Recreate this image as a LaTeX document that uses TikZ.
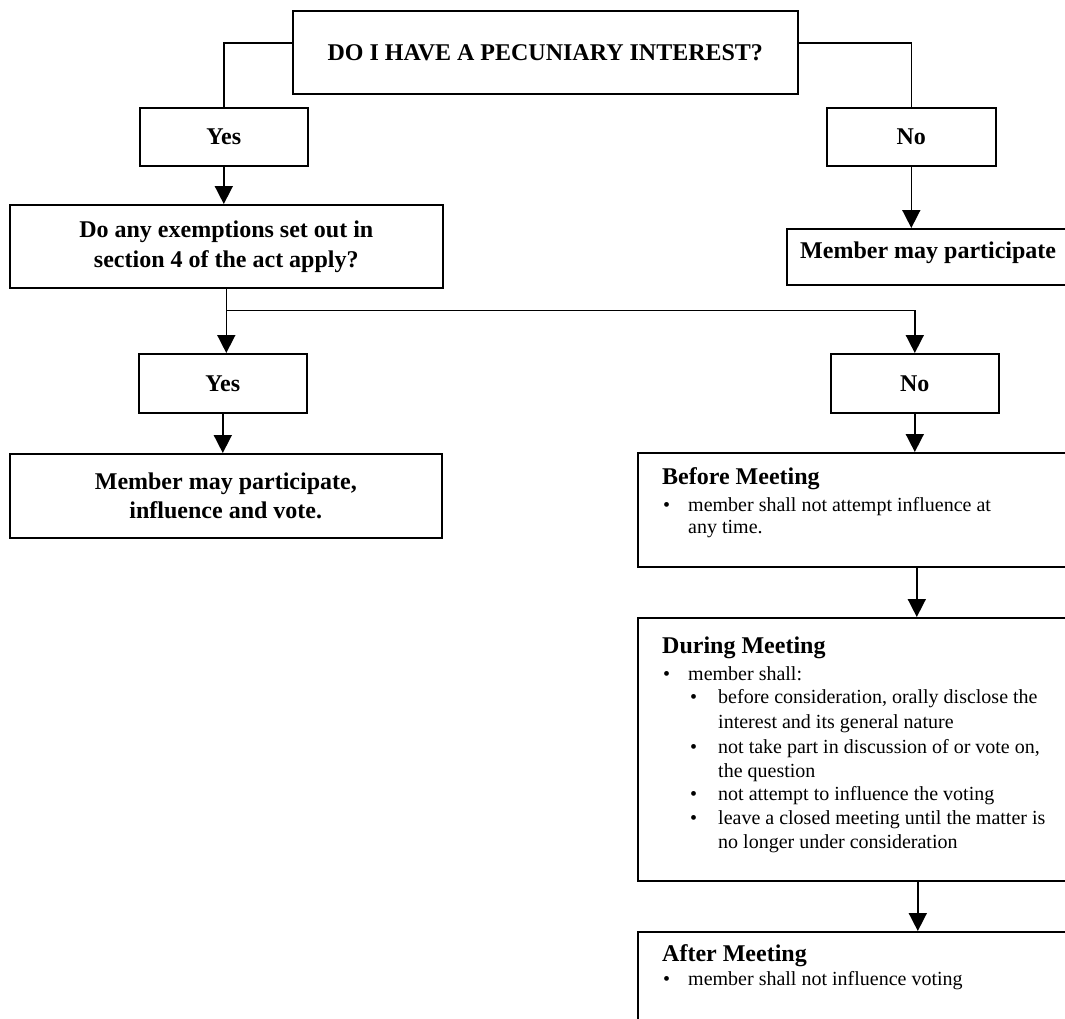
\documentclass[tikz,border=0pt]{standalone}
\usepackage{fontspec}
\setmainfont{Liberation Serif}
\usetikzlibrary{arrows.meta,calc}
\begin{document}
\begin{tikzpicture}[x=1pt,y=-1pt,
  box/.style={draw, line width=1.6pt, inner sep=0pt, anchor=north west},
  ttl/.style={font=\fontsize{24}{30}\selectfont\bfseries, align=center},
  head/.style={font=\fontsize{24}{29}\selectfont\bfseries, anchor=base west, inner sep=0pt},
  body/.style={font=\fontsize{20}{24}\selectfont, anchor=base west, inner sep=0pt},
  conn/.style={line width=1.6pt},
  arr/.style={conn, -{Triangle[width=18pt,length=18pt]}}]
\useasboundingbox (0,0) rectangle (1065,1018);
\clip (0,0) rectangle (1065,1018);
\fill[white] (0,0) rectangle (1065,1018);

% boxes
\node[box, ttl, minimum width=505pt, minimum height=83pt] (top) at (292,10) {DO I HAVE A PECUNIARY INTEREST?};
\node[box, ttl, minimum width=168pt, minimum height=58pt] (yes1) at (139,107) {Yes};
\node[box, ttl, minimum width=169pt, minimum height=58pt] (no1) at (826,107) {No};
\node[box, minimum width=330pt, minimum height=56pt] (mmp) at (786,228) {};
\node[box, ttl, minimum width=433pt, minimum height=83pt] (exq) at (9,204) {Do any exemptions set out in\\section 4 of the act apply?};
\node[box, ttl, minimum width=168pt, minimum height=59pt] (yes2) at (138,353) {Yes};
\node[box, ttl, minimum width=168pt, minimum height=59pt] (no2) at (830,353) {No};
\node[box, ttl, minimum width=432pt, minimum height=84pt, font=\fontsize{24}{29}\selectfont\bfseries] (mem) at (9,453) {Member may participate,\\influence and vote.};
\node[box, minimum width=480pt, minimum height=114pt] (before) at (637,452) {};
\node[box, minimum width=480pt, minimum height=263pt] (during) at (637,617) {};
\node[box, minimum width=480pt, minimum height=200pt] (after) at (637,931) {};

% texts in right boxes
\node[head] (mmpt) at (800,258) {Member may participate};

\node[head] (bh) at (662,484) {Before Meeting};
\node[body] (bb1) at (663,511) {•};
\node[body] (bl1) at (688,511) {member shall not attempt influence at};
\node[body] (bl2) at (688,533) {any time.};

\node[head] (dh) at (662,653) {During Meeting};
\node[body] (db0) at (663,680) {•};
\node[body] (dl0) at (688,680) {member shall:};
\foreach \yy [count=\i] in {703,753,800,824}
  \node[body] (db\i) at (690,\yy) {•};
\foreach \t/\yy [count=\i] in {{before consideration, orally disclose the}/703,
    {interest and its general nature}/728,
    {not take part in discussion of or vote on,}/753,
    {the question}/777,
    {not attempt to influence the voting}/800,
    {leave a closed meeting until the matter is}/824,
    {no longer under consideration}/848}
  \node[body] (dl\i) at (718,\yy) {\t};

\node[head] (ah) at (662,961) {After Meeting};
\node[body] (ab1) at (663,985) {•};
\node[body] (al1) at (688,985) {member shall not influence voting};

% connectors
\draw[conn] ($(top.north west)+(0,33)$) -| (yes1.north);
\draw[conn] ($(top.north east)+(0,33)$) -| (no1.north);
\draw[arr] (yes1.south) -- (yes1.south |- exq.north);
\draw[arr] (no1.south) -- (no1.south |- mmp.north);
\coordinate (br) at ($(exq.south)+(0,22)$);
\draw[arr] (exq.south) -- (exq.south |- yes2.north);
\draw[arr] (br) -| (no2.north);
\draw[arr] (yes2.south) -- (yes2.south |- mem.north);
\draw[arr] (no2.south) -- (no2.south |- before.north);
\draw[arr] ($(before.south -| no2.south)+(2,0)$) -- ($(during.north -| no2.south)+(2,0)$);
\draw[arr] ($(during.south -| no2.south)+(3,0)$) -- ($(after.north -| no2.south)+(3,0)$);
\end{tikzpicture}
\end{document}
